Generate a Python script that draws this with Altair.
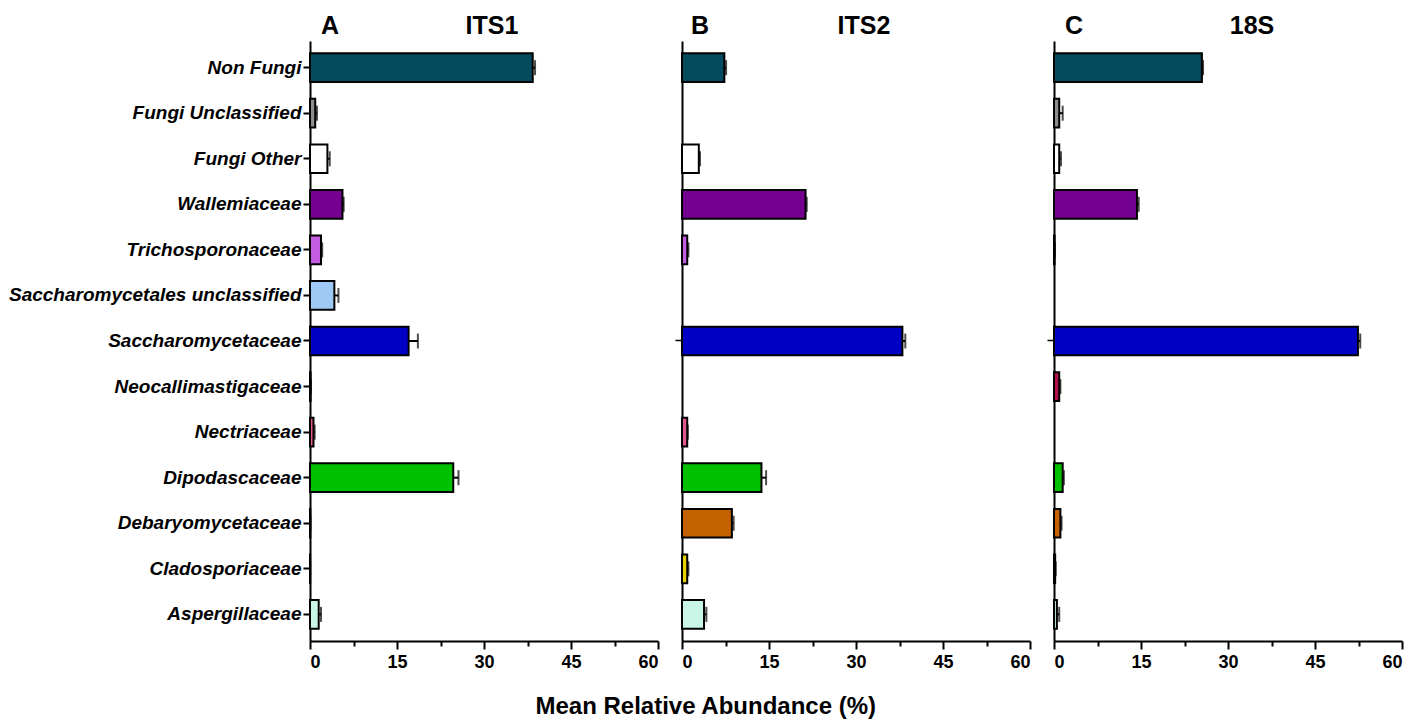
import altair as alt
import pandas as pd

categories = ["Non Fungi", "Fungi Unclassified", "Fungi Other", "Wallemiaceae",
              "Trichosporonaceae", "Saccharomycetales unclassified", "Saccharomycetaceae",
              "Neocallimastigaceae", "Nectriaceae", "Dipodascaceae", "Debaryomycetaceae",
              "Cladosporiaceae", "Aspergillaceae"]
colors = ["#024c5e", "#8c8c8c", "#ffffff", "#74008f", "#c35ce0", "#9fc9f5", "#0000c4",
          "#b3104e", "#e2578f", "#00c000", "#c46200", "#e6d200", "#c9f6e6"]

its1_mean = [38.4, 0.9, 3.0, 5.6, 1.9, 4.2, 17.0, 0.1, 0.6, 24.7, 0.05, 0.02, 1.5]
its1_err = [0.4, 0.3, 0.4, 0.2, 0.2, 0.7, 1.6, 0.05, 0.2, 0.9, 0.02, 0.01, 0.4]
its2_mean = [7.3, 0.0, 2.9, 21.3, 0.9, 0.0, 38.0, 0.0, 0.9, 13.7, 8.6, 0.9, 3.8]
its2_err = [0.3, 0.0, 0.2, 0.2, 0.2, 0.0, 0.5, 0.0, 0.1, 0.8, 0.3, 0.2, 0.4]
s18_mean = [25.5, 0.9, 0.9, 14.3, 0.1, 0.0, 52.4, 0.9, 0.0, 1.5, 1.1, 0.2, 0.5]
s18_err = [0.2, 0.6, 0.3, 0.3, 0.05, 0.0, 0.4, 0.2, 0.0, 0.2, 0.2, 0.1, 0.4]

x_ticks = [0, 7.5, 15, 22.5, 30, 37.5, 45, 52.5, 60]

FONT = "Liberation Sans"

panels = [
    dict(letter="A", name="ITS1", mean=its1_mean, err=its1_err, lx=20, tx=182, first=True),
    dict(letter="B", name="ITS2", mean=its2_mean, err=its2_err, lx=18, tx=182, first=False),
    dict(letter="C", name="18S", mean=s18_mean, err=s18_err, lx=20, tx=198, first=False),
]


def make_panel(p, width):
    df = pd.DataFrame({"cat": categories, "mean": p["mean"], "err": p["err"]})
    df["hi"] = df["mean"] + df["err"]

    xscale = alt.Scale(domain=[0, 60], nice=False, zero=True)
    yscale = alt.Scale(domain=categories, paddingInner=0.37, paddingOuter=0.27)

    xaxis = alt.Axis(values=x_ticks, title=None, grid=False,
                     labelExpr="datum.value % 15 === 0 ? datum.label : ''",
                     labelFont=FONT, labelFontSize=18, labelFontWeight="bold",
                     labelColor="black", labelPadding=4,
                     domainColor="black", domainWidth=2,
                     tickColor="black", tickWidth=2,
                     tickSize={"condition": {"test": "datum.value % 15 === 0", "value": 8}, "value": 5})
    if p["first"]:
        yaxis = alt.Axis(title=None, labelFont=FONT, labelFontSize=19, labelFontWeight="bold",
                         labelFontStyle="italic", labelColor="black", labelPadding=2,
                         tickSize=7, tickWidth=2, tickColor="black",
                         domainColor="black", domainWidth=2, labelLimit=400)
    else:
        yaxis = alt.Axis(title=None, labels=False, values=["Saccharomycetaceae"],
                         tickSize=7, tickWidth=1.5, tickColor="black",
                         domainColor="black", domainWidth=2)

    base = alt.Chart(df)
    bars = base.mark_bar(stroke="black", strokeWidth=2).encode(
        y=alt.Y("cat:N", scale=yscale, axis=yaxis, sort=categories),
        x=alt.X("mean:Q", scale=xscale, axis=xaxis),
        color=alt.Color("cat:N", scale=alt.Scale(domain=categories, range=colors), legend=None),
    ).transform_filter("datum.mean > 0")
    rule = base.mark_rule(color="black", strokeWidth=2).encode(
        y=alt.Y("cat:N", sort=categories),
        x="mean:Q", x2="hi:Q",
    ).transform_filter("datum.mean > 0")
    cap = base.mark_tick(color="black", thickness=2, size=15).encode(
        y=alt.Y("cat:N", sort=categories),
        x="hi:Q",
    ).transform_filter("datum.mean > 0")

    lab = pd.DataFrame({"t": [p["letter"]]})
    letter = alt.Chart(lab).mark_text(font=FONT, fontSize=25, fontWeight="bold",
                                      align="center", baseline="alphabetic",
                                      color="black").encode(
        x=alt.value(p["lx"]), y=alt.value(-7), text="t:N")
    ttl = pd.DataFrame({"t": [p["name"]]})
    name = alt.Chart(ttl).mark_text(font=FONT, fontSize=25, fontWeight="bold",
                                    align="center", baseline="alphabetic",
                                    color="black").encode(
        x=alt.value(p["tx"]), y=alt.value(-7), text="t:N")

    return alt.layer(bars, rule, cap, letter, name).properties(width=width, height=600)


charts = [make_panel(p, 348) for p in panels]

chart = alt.hconcat(*charts, spacing=24).properties(
    bounds="flush",
    padding={"left": 0, "top": 6, "right": 5, "bottom": 5},
    title=alt.TitleParams("Mean Relative Abundance (%)", orient="bottom", anchor="middle",
                          font=FONT, fontSize=24, fontWeight="bold", color="black", offset=24),
).configure_view(stroke=None).resolve_scale(y="independent")

chart.save("out.html", embed_options={"renderer": "svg", "actions": False})
